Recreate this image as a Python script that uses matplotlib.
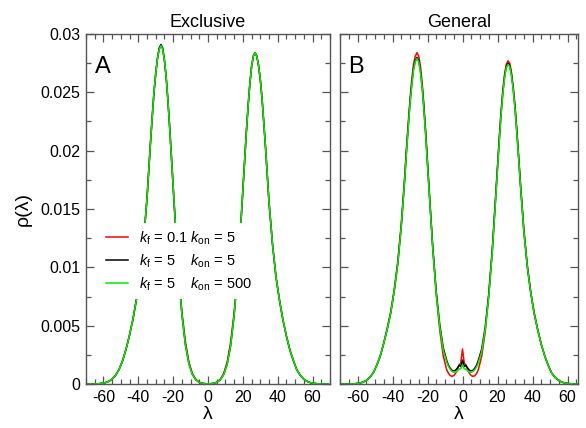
import numpy as np
import matplotlib
matplotlib.use('Agg')
from matplotlib import pyplot as plt
from matplotlib.ticker import MultipleLocator, FuncFormatter

plt.rcParams['font.family'] = ['Liberation Sans', 'DejaVu Sans']
plt.rcParams['mathtext.fontset'] = 'custom'
plt.rcParams['mathtext.rm'] = 'Liberation Sans'
plt.rcParams['mathtext.it'] = 'Liberation Sans:italic'

# sample positions (lambda), finer around the peaks / centre
lam_a = (list(range(-69, -32, 2)) + list(range(-32, -21)) + list(range(-21, 22, 2))
         + list(range(22, 33)) + list(range(33, 70, 2)))
lam_b = (list(range(-69, -32, 2)) + list(range(-32, -21)) + list(range(-21, -8, 2))
         + list(range(-8, 9)) + list(range(9, 22, 2)) + list(range(22, 33))
         + list(range(33, 70, 2)))

labels = [r'$k_\mathrm{f}$ = 0.1 $k_\mathrm{on}$ = 5',
          r'$k_\mathrm{f}$ = 5    $k_\mathrm{on}$ = 5',
          r'$k_\mathrm{f}$ = 5    $k_\mathrm{on}$ = 500']
colors = ['#ff0000', '#000000', '#00ee00']

# panel A: Exclusive
green_a = [0, 0, 0.00001, 0.00002, 0.00005, 0.00011, 0.00022, 0.00042, 0.00075, 0.00125,
           0.0020, 0.0030, 0.0042, 0.0056, 0.0073, 0.0094, 0.0122, 0.0159, 0.0207,
           0.0229, 0.0250, 0.0266, 0.0279, 0.0287, 0.0290, 0.0287, 0.02775, 0.0263, 0.0243, 0.0220,
           0.0195, 0.0144, 0.0097, 0.0060, 0.0034, 0.00175, 0.00083, 0.00036, 0.00014, 0.00005,
           0.00002, 0.00002, 0.00005, 0.00014, 0.00035, 0.00081, 0.0017, 0.0033, 0.0059, 0.0095,
           0.0141, 0.0191,
           0.0216, 0.0238, 0.0257, 0.0272, 0.0281, 0.0284, 0.0281, 0.0273, 0.0261, 0.0245, 0.0224,
           0.0203, 0.0156, 0.0120, 0.0092, 0.0072, 0.0055, 0.0041, 0.0029, 0.0020, 0.0012,
           0.00073, 0.00041, 0.00021, 0.0001, 0.00005, 0.00002, 0.00001, 0, 0]
black_a = [0, 0, 0.00001, 0.00002, 0.00005, 0.00011, 0.00022, 0.00042, 0.00075, 0.00125,
           0.0020, 0.0030, 0.0042, 0.0056, 0.0073, 0.0094, 0.0122, 0.0159, 0.0207,
           0.0229, 0.0250, 0.0266, 0.0279, 0.0288, 0.0291, 0.0288, 0.02775, 0.0263, 0.0243, 0.0220,
           0.0195, 0.0144, 0.0097, 0.0060, 0.0034, 0.00178, 0.00084, 0.00036, 0.00014, 0.00005,
           0.00002, 0.00002, 0.00005, 0.00014, 0.00035, 0.00082, 0.0017, 0.0033, 0.0059, 0.0095,
           0.0141, 0.0191,
           0.0216, 0.0238, 0.0257, 0.0272, 0.0281, 0.0284, 0.0281, 0.0273, 0.0261, 0.0245, 0.0224,
           0.0203, 0.0156, 0.0120, 0.0092, 0.0072, 0.0055, 0.0041, 0.0029, 0.0020, 0.0012,
           0.00073, 0.00041, 0.00021, 0.0001, 0.00005, 0.00002, 0.00001, 0, 0]
red_a = [0, 0, 0.00001, 0.00002, 0.00005, 0.00011, 0.00022, 0.00042, 0.00075, 0.00125,
         0.0020, 0.0030, 0.0042, 0.0056, 0.0073, 0.0094, 0.0122, 0.0159, 0.0207,
         0.0229, 0.0250, 0.0266, 0.0279, 0.0287, 0.0290, 0.0287, 0.02775, 0.0263, 0.0243, 0.0220,
         0.0195, 0.0144, 0.0098, 0.0062, 0.0037, 0.0019, 0.0009, 0.0004, 0.00015, 0.00005,
         0.00002, 0.00002, 0.00005, 0.00015, 0.0004, 0.0009, 0.0019, 0.0036, 0.0061, 0.0096,
         0.0141, 0.0191,
         0.0216, 0.0238, 0.0257, 0.0272, 0.0281, 0.0284, 0.0281, 0.0273, 0.0261, 0.0245, 0.0224,
         0.0203, 0.0156, 0.0120, 0.0092, 0.0072, 0.0055, 0.0041, 0.0029, 0.0020, 0.0012,
         0.00073, 0.00041, 0.00021, 0.0001, 0.00005, 0.00002, 0.00001, 0, 0]

# panel B: General
green_b = [0, 0, 0, 0.00001, 0.00003, 0.00007, 0.00015, 0.0003, 0.00056, 0.00095,
           0.0016, 0.0024, 0.0035, 0.0047, 0.0061, 0.0080, 0.0103, 0.0135, 0.0176,
           0.0199, 0.0220, 0.0240, 0.0256, 0.0269, 0.0276, 0.0279, 0.0276, 0.0267, 0.0253, 0.0234,
           0.0212, 0.0163, 0.0116, 0.0077, 0.0049, 0.0029, 0.00185,
           0.0015, 0.00125, 0.00108, 0.0010, 0.00102, 0.00112, 0.00126, 0.00132, 0.00165,
           0.00132, 0.00126, 0.00112, 0.00102, 0.0010, 0.00107, 0.00122, 0.00145,
           0.0018, 0.0028, 0.0047, 0.0075, 0.0113, 0.0160, 0.0208,
           0.0230, 0.0248, 0.0262, 0.0271, 0.0274, 0.0272, 0.0264, 0.0252, 0.0236, 0.0216, 0.0195,
           0.0173, 0.0132, 0.0101, 0.0078, 0.0060, 0.0046, 0.0034, 0.0024, 0.0016, 0.00093,
           0.00055, 0.0003, 0.00015, 0.00007, 0.00003, 0.00001, 0, 0, 0]
black_b = [0, 0, 0, 0.00001, 0.00003, 0.00007, 0.00015, 0.0003, 0.00056, 0.00095,
           0.0016, 0.0024, 0.0035, 0.0047, 0.0061, 0.0080, 0.0103, 0.0135, 0.0176,
           0.0200, 0.0221, 0.0241, 0.0257, 0.0270, 0.0277, 0.0280, 0.0277, 0.0268, 0.0254, 0.0235,
           0.0213, 0.0164, 0.0117, 0.0079, 0.0051, 0.0031, 0.0020,
           0.0016, 0.00135, 0.00117, 0.00112, 0.00118, 0.00135, 0.0016, 0.0015, 0.00205,
           0.0015, 0.0016, 0.00135, 0.00118, 0.00112, 0.00117, 0.00135, 0.0016,
           0.0020, 0.0030, 0.0049, 0.0077, 0.0114, 0.0161, 0.0209,
           0.0231, 0.0249, 0.0263, 0.0272, 0.0275, 0.0273, 0.0265, 0.0253, 0.0237, 0.0217, 0.0196,
           0.0173, 0.0132, 0.0101, 0.0078, 0.0060, 0.0046, 0.0034, 0.0024, 0.0016, 0.00093,
           0.00055, 0.0003, 0.00015, 0.00007, 0.00003, 0.00001, 0, 0, 0]
red_b = [0, 0, 0, 0.00001, 0.00003, 0.00007, 0.00015, 0.0003, 0.00056, 0.00095,
         0.0016, 0.0024, 0.0035, 0.0048, 0.0062, 0.0081, 0.0105, 0.0137, 0.0179,
         0.0203, 0.0224, 0.0244, 0.0261, 0.0274, 0.0281, 0.0284, 0.0281, 0.0272, 0.0257, 0.0238,
         0.0216, 0.0166, 0.0117, 0.0077, 0.0046, 0.0024, 0.0012,
         0.00092, 0.00072, 0.00066, 0.00072, 0.0009, 0.0012, 0.0016, 0.0018, 0.0030,
         0.0018, 0.0016, 0.0012, 0.0009, 0.00072, 0.00066, 0.0007, 0.0009,
         0.0012, 0.0024, 0.0045, 0.0076, 0.0115, 0.0163, 0.0211,
         0.0233, 0.0251, 0.0265, 0.0274, 0.0277, 0.0275, 0.0267, 0.0254, 0.0239, 0.0219, 0.0197,
         0.0175, 0.0134, 0.0102, 0.0079, 0.0061, 0.0047, 0.0034, 0.0024, 0.0016, 0.00093,
         0.00055, 0.0003, 0.00015, 0.00007, 0.00003, 0.00001, 0, 0, 0]

fig = plt.figure(figsize=(5.86, 4.28), dpi=100)
ax1 = fig.add_axes([86 / 586, 1 - 384 / 428, 244 / 586, 350 / 428])
ax2 = fig.add_axes([340 / 586, 1 - 384 / 428, 238 / 586, 350 / 428])

for ax, lam, ys, title, tag, xlim in [
        (ax1, lam_a, [red_a, black_a, green_a], 'Exclusive', 'A', (-70, 70)),
        (ax2, lam_b, [red_b, black_b, green_b], 'General', 'B', (-70, 66))]:
    for y, c, lab in zip(ys, colors, labels):
        ax.plot(lam, y, color=c, lw=1.1, label=lab)
    ax.set_xlim(*xlim)
    ax.set_ylim(0, 0.03)
    ax.xaxis.set_major_locator(MultipleLocator(20))
    ax.xaxis.set_minor_locator(MultipleLocator(5))
    ax.yaxis.set_major_locator(MultipleLocator(0.005))
    ax.yaxis.set_minor_locator(MultipleLocator(0.0025))
    ax.xaxis.set_major_formatter(FuncFormatter(lambda v, _: '%d' % round(v)))
    ax.yaxis.set_major_formatter(FuncFormatter(lambda v, _: '%g' % round(v, 4)))
    ax.tick_params(which='both', direction='in', top=True, right=True,
                   color='#555555', labelsize=11.5, pad=4)
    ax.tick_params(which='major', length=6, width=0.9)
    ax.tick_params(which='minor', length=3.5, width=0.9)
    for s in ax.spines.values():
        s.set_color('#555555')
        s.set_linewidth(1.0)
    ax.set_title(title, fontsize=13, pad=5)
    ax.text(0.035, 0.905, tag, transform=ax.transAxes, fontsize=17,
            ha='left', va='center')
    ax.set_xlabel('λ', fontsize=14, labelpad=1)

ax2.tick_params(labelleft=False)
ax1.set_ylabel('ρ(λ)', fontsize=14, labelpad=6)

leg = ax1.legend(loc='upper left', bbox_to_anchor=(0.03, 0.48), fontsize=10.5,
                 handlelength=1.5, handletextpad=0.7, labelspacing=0.4,
                 borderpad=0.4, frameon=True, fancybox=False)
leg.get_frame().set_facecolor('white')
leg.get_frame().set_edgecolor('none')
leg.get_frame().set_alpha(1.0)

fig.savefig('out.png', dpi=100)
